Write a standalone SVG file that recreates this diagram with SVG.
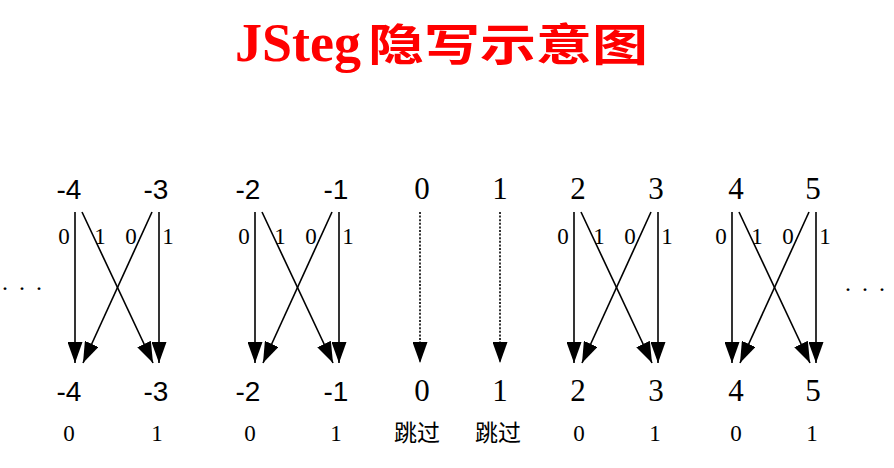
<svg xmlns="http://www.w3.org/2000/svg" width="894" height="468" viewBox="0 0 894 468">
<style>
.neg{font-family:"Liberation Sans",Arial,sans-serif;font-size:28px;fill:#000;text-anchor:middle}
.lbl{font-family:"Liberation Serif","Times New Roman",serif;font-size:23px;fill:#000;text-anchor:middle}
.num{font-family:"Liberation Serif","Times New Roman",serif;font-size:31px;fill:#000;text-anchor:middle}
.cjk{font-family:"Liberation Serif","Noto Sans CJK SC",sans-serif;font-size:23px;fill:#000;text-anchor:middle}
.dots{font-family:"Liberation Serif",serif;font-size:24px;fill:#000;text-anchor:middle}
.ln{stroke:#000;stroke-width:1.6;fill:none;marker-end:url(#ah)}
.dl{stroke:#000;stroke-width:1.6;fill:none;stroke-dasharray:2 1.6;marker-end:url(#ah)}
</style>
<defs>
<marker id="ah" markerUnits="userSpaceOnUse" markerWidth="21" markerHeight="15" viewBox="0 0 21 15" refX="21" refY="7.5" orient="auto">
<path d="M0,0 L21,7.5 L0,15 z" fill="#000"/>
</marker>
</defs>
<rect width="894" height="468" fill="#fff"/>
<g id="title">
<text x="235" y="61" font-family="'Liberation Serif','Times New Roman',serif" font-weight="bold" font-size="54" fill="#ff0000">JSteg</text>
<text x="368" y="61" font-family="'Noto Sans CJK SC',sans-serif" font-weight="bold" font-size="44" fill="#ff0000" textLength="280" lengthAdjust="spacingAndGlyphs">隐写示意图</text>
</g>
<g id="top-row">
<g id="top-m4"><text class="neg" x="69" y="199">-4</text></g>
<g id="top-m3"><text class="neg" x="156" y="199">-3</text></g>
<g id="top-m2"><text class="neg" x="248" y="199">-2</text></g>
<g id="top-m1"><text class="neg" x="336" y="199">-1</text></g>
<g id="top-0"><text class="num" x="422" y="199">0</text></g>
<g id="top-1"><text class="num" x="500" y="199">1</text></g>
<g id="top-2"><text class="num" x="578" y="199">2</text></g>
<g id="top-3"><text class="num" x="656" y="199">3</text></g>
<g id="top-4"><text class="num" x="736" y="199">4</text></g>
<g id="top-5"><text class="num" x="813" y="199">5</text></g>
</g>
<g id="bottom-row">
<g id="bot-m4"><text class="neg" x="69" y="401">-4</text><text class="lbl" x="69" y="441">0</text></g>
<g id="bot-m3"><text class="neg" x="156" y="401">-3</text><text class="lbl" x="157" y="441">1</text></g>
<g id="bot-m2"><text class="neg" x="248" y="401">-2</text><text class="lbl" x="250" y="441">0</text></g>
<g id="bot-m1"><text class="neg" x="336" y="401">-1</text><text class="lbl" x="336" y="441">1</text></g>
<g id="bot-0"><text class="num" x="422" y="401">0</text><text class="cjk" x="417" y="441">跳过</text></g>
<g id="bot-1"><text class="num" x="500" y="401">1</text><text class="cjk" x="498" y="441">跳过</text></g>
<g id="bot-2"><text class="num" x="578" y="401">2</text><text class="lbl" x="579" y="441">0</text></g>
<g id="bot-3"><text class="num" x="656" y="401">3</text><text class="lbl" x="655" y="441">1</text></g>
<g id="bot-4"><text class="num" x="736" y="401">4</text><text class="lbl" x="736" y="441">0</text></g>
<g id="bot-5"><text class="num" x="813" y="401">5</text><text class="lbl" x="812" y="441">1</text></g>
</g>
<g id="ellipsis">
<text class="dots" x="5 22 39" y="290">...</text>
<text class="dots" x="848 865 882" y="291">...</text>
</g>
<g id="connectors">
<g id="pair-m4-m3">
<line class="ln" x1="75" y1="212" x2="75" y2="363"/>
<line class="ln" x1="82" y1="212" x2="153" y2="363"/>
<line class="ln" x1="152" y1="212" x2="83" y2="363"/>
<line class="ln" x1="159" y1="212" x2="159" y2="363"/>
<text class="lbl" x="64" y="244">0</text><text class="lbl" x="100" y="244">1</text><text class="lbl" x="131" y="244">0</text><text class="lbl" x="168" y="244">1</text>
</g>
<g id="pair-m2-m1" transform="translate(180,0)">
<line class="ln" x1="75" y1="212" x2="75" y2="363"/>
<line class="ln" x1="82" y1="212" x2="153" y2="363"/>
<line class="ln" x1="152" y1="212" x2="83" y2="363"/>
<line class="ln" x1="159" y1="212" x2="159" y2="363"/>
<text class="lbl" x="64" y="244">0</text><text class="lbl" x="100" y="244">1</text><text class="lbl" x="131" y="244">0</text><text class="lbl" x="168" y="244">1</text>
</g>
<g id="skip-0-1">
<line class="dl" x1="420" y1="212" x2="420" y2="363"/>
<line class="dl" x1="500" y1="212" x2="500" y2="363"/>
</g>
<g id="pair-2-3" transform="translate(499,0)">
<line class="ln" x1="75" y1="212" x2="75" y2="363"/>
<line class="ln" x1="82" y1="212" x2="153" y2="363"/>
<line class="ln" x1="152" y1="212" x2="83" y2="363"/>
<line class="ln" x1="159" y1="212" x2="159" y2="363"/>
<text class="lbl" x="64" y="244">0</text><text class="lbl" x="100" y="244">1</text><text class="lbl" x="131" y="244">0</text><text class="lbl" x="168" y="244">1</text>
</g>
<g id="pair-4-5" transform="translate(657,0)">
<line class="ln" x1="75" y1="212" x2="75" y2="363"/>
<line class="ln" x1="82" y1="212" x2="153" y2="363"/>
<line class="ln" x1="152" y1="212" x2="83" y2="363"/>
<line class="ln" x1="159" y1="212" x2="159" y2="363"/>
<text class="lbl" x="64" y="244">0</text><text class="lbl" x="100" y="244">1</text><text class="lbl" x="131" y="244">0</text><text class="lbl" x="168" y="244">1</text>
</g>
</g>
</svg>
